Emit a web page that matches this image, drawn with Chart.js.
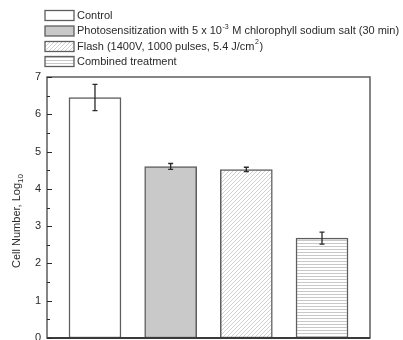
<!DOCTYPE html>
<html>
<head>
<meta charset="utf-8">
<script src="https://cdn.jsdelivr.net/npm/chart.js@4.4.0/dist/chart.umd.min.js"></script>
<style>
  html, body { margin: 0; padding: 0; background: #fff; }
</style>
</head>
<body>
<canvas id="c" width="403" height="340"></canvas>
<script>
// Treatment groups (legend text, split into plain / superscript runs)
const treatmentLabels = [
  [['Control', '']],
  [['Photosensitization with 5 x 10', ''], ['-3', 'sup'], [' M chlorophyll sodium salt (30 min)', '']],
  [['Flash (1400V, 1000 pulses, 5.4 J/cm', ''], ['2', 'sup'], [')', '']],
  [['Combined treatment', '']]
];
const treatmentPositions = [1, 2, 3, 4];
// Mean cell number (log10) and its error
const cellLog = [6.45, 4.60, 4.52, 2.68];
const cellErr = [0.35, 0.08, 0.06, 0.16];
// Y axis
const yTickValues = [0, 1, 2, 3, 4, 5, 6, 7];
const yMin = 0, yMax = 7;

const FONT = '"Liberation Sans", Arial, sans-serif';
const EDGE = '#5e5e5e';
const INK = '#2a2a2a';

// Fill styles for each treatment
function makePattern(kind) {
  const pc = document.createElement('canvas');
  const ctx = pc.getContext('2d');
  if (kind === 'diag') {
    pc.width = 4; pc.height = 4;
    ctx.fillStyle = '#ffffff'; ctx.fillRect(0, 0, 4, 4);
    ctx.strokeStyle = '#cfcfcf'; ctx.lineWidth = 1;
    ctx.beginPath();
    ctx.moveTo(-1, 5); ctx.lineTo(5, -1);
    ctx.moveTo(-1, 1); ctx.lineTo(1, -1);
    ctx.moveTo(3, 5); ctx.lineTo(5, 3);
    ctx.stroke();
  } else {
    pc.width = 4; pc.height = 3;
    ctx.fillStyle = '#ffffff'; ctx.fillRect(0, 0, 4, 3);
    ctx.fillStyle = '#c8c8c8'; ctx.fillRect(0, 0, 4, 1);
  }
  return document.createElement('canvas').getContext('2d').createPattern(pc, 'repeat');
}
const fills = ['#ffffff', '#c9c9c9', makePattern('diag'), makePattern('horiz')];

const datasets = treatmentPositions.map((x, i) => ({
  label: treatmentLabels[i].map(r => r[0]).join(''),
  data: [{ x: x, y: cellLog[i] }],
  backgroundColor: fills[i],
  borderColor: EDGE,
  borderWidth: 1.5,
  borderSkipped: false,
  barThickness: 52,
  grouped: false
}));

// Frame, inward ticks, error bars, axis title and legend
const decorations = {
  id: 'decorations',
  afterDatasetsDraw(chart) {
    const ctx = chart.ctx;
    const a = chart.chartArea;
    const ys = chart.scales.y;

    // error bars
    ctx.save();
    ctx.strokeStyle = INK;
    ctx.lineWidth = 1.3;
    chart.data.datasets.forEach((ds, i) => {
      const bar = chart.getDatasetMeta(i).data[0];
      const x = bar.x;
      const yHi = ys.getPixelForValue(cellLog[i] + cellErr[i]);
      const yLo = ys.getPixelForValue(cellLog[i] - cellErr[i]);
      ctx.beginPath();
      ctx.moveTo(x, yHi); ctx.lineTo(x, yLo);
      ctx.moveTo(x - 2.5, yHi); ctx.lineTo(x + 2.5, yHi);
      ctx.moveTo(x - 2.5, yLo); ctx.lineTo(x + 2.5, yLo);
      ctx.stroke();
    });
    ctx.restore();

    // plot frame
    ctx.save();
    ctx.strokeStyle = EDGE;
    ctx.lineWidth = 1.5;
    ctx.strokeRect(a.left, a.top, a.right - a.left, a.bottom - a.top);
    ctx.strokeStyle = '#3a3a3a';
    ctx.lineWidth = 2;
    ctx.beginPath();
    ctx.moveTo(a.left, a.bottom); ctx.lineTo(a.right, a.bottom);
    ctx.stroke();

    // inward ticks: major on integers, minor halfway
    ctx.strokeStyle = INK;
    ctx.lineWidth = 1;
    ctx.beginPath();
    yTickValues.forEach(v => {
      const y = Math.round(ys.getPixelForValue(v)) + 0.5;
      ctx.moveTo(a.left, y); ctx.lineTo(a.left + 5, y);
      if (v < yMax) {
        const ym = Math.round(ys.getPixelForValue(v + 0.5)) + 0.5;
        ctx.moveTo(a.left, ym); ctx.lineTo(a.left + 3, ym);
      }
    });
    ctx.stroke();
    ctx.restore();

    // y axis title with subscript
    ctx.save();
    ctx.translate(17, 221);
    ctx.rotate(-Math.PI / 2);
    ctx.fillStyle = INK;
    ctx.textBaseline = 'middle';
    const main = 'Cell Number, Log';
    ctx.font = '8px ' + FONT;
    const subW = ctx.measureText('10').width;
    ctx.font = '11px ' + FONT;
    const mainW = ctx.measureText(main).width;
    const x0 = -(mainW + subW) / 2;
    ctx.textAlign = 'left';
    ctx.fillText(main, x0, 0);
    ctx.font = '8px ' + FONT;
    ctx.fillText('10', x0 + mainW, 4);
    ctx.restore();

    // legend
    ctx.save();
    const rowY = [15.5, 31, 46.5, 61.5];
    const boxX = 45, boxW = 29, boxH = 10, textX = 77;
    chart.data.datasets.forEach((ds, i) => {
      const cy = rowY[i];
      ctx.fillStyle = ds.backgroundColor;
      ctx.fillRect(boxX, cy - boxH / 2, boxW, boxH);
      ctx.strokeStyle = EDGE;
      ctx.lineWidth = 1.3;
      ctx.strokeRect(boxX, cy - boxH / 2, boxW, boxH);
      let tx = textX;
      ctx.fillStyle = INK;
      ctx.textAlign = 'left';
      ctx.textBaseline = 'middle';
      treatmentLabels[i].forEach(([txt, kind]) => {
        if (kind === 'sup') {
          ctx.font = '7px ' + FONT;
          ctx.fillText(txt, tx + 0.5, cy - 4);
          tx += ctx.measureText(txt).width + 1;
        } else {
          ctx.font = '11px ' + FONT;
          ctx.fillText(txt, tx, cy);
          tx += ctx.measureText(txt).width;
        }
      });
    });
    ctx.restore();
  }
};

new Chart(document.getElementById('c'), {
  type: 'bar',
  data: { datasets },
  options: {
    responsive: false,
    animation: false,
    devicePixelRatio: 1,
    layout: { padding: { left: 0, right: 33, top: 77, bottom: 2 } },
    plugins: { legend: { display: false }, tooltip: { enabled: false } },
    scales: {
      x: {
        type: 'linear',
        offset: false,
        min: 0.366,
        max: 4.634,
        display: false,
        grid: { offset: false }
      },
      y: {
        min: yMin,
        max: yMax,
        afterFit(scale) {
          scale.width = 47;
          scale.paddingTop = 0;
          scale.paddingBottom = 0;
        },
        afterBuildTicks(scale) { scale.ticks = yTickValues.map(v => ({ value: v })); },
        grid: { display: false, drawTicks: false },
        border: { display: false },
        ticks: {
          padding: 6,
          color: INK,
          font: { family: FONT, size: 11 }
        }
      }
    }
  },
  plugins: [decorations]
});
</script>
</body>
</html>
